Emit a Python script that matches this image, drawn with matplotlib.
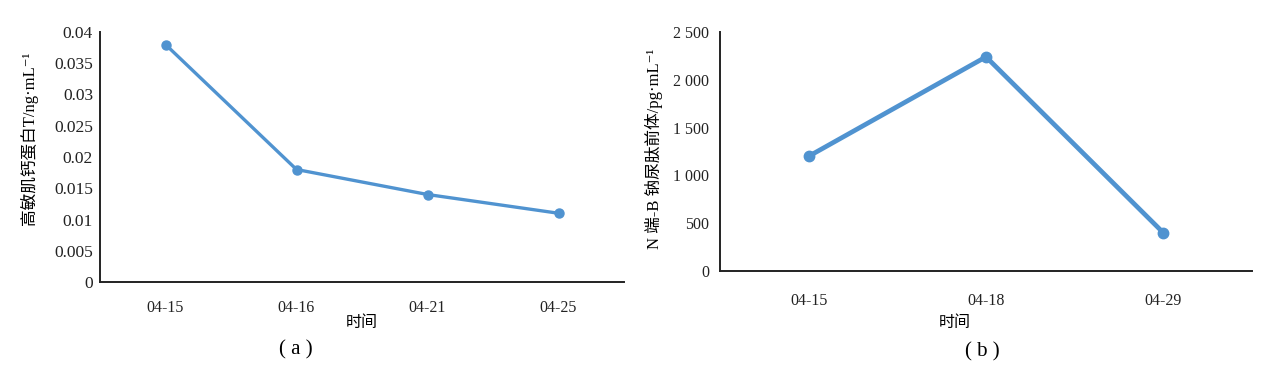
import matplotlib
matplotlib.use("Agg")
import matplotlib.pyplot as plt
from matplotlib.ticker import FixedLocator

plt.rcParams['font.family'] = ['Liberation Serif', 'Noto Sans CJK SC', 'DejaVu Sans']

# Data
dates_a = ["04-15", "04-16", "04-21", "04-25"]
values_a = [0.038, 0.018, 0.014, 0.011]
yticks_a = [0, 0.005, 0.01, 0.015, 0.02, 0.025, 0.03, 0.035, 0.04]
yticklabels_a = ["0", "0.005", "0.01", "0.015", "0.02", "0.025", "0.03", "0.035", "0.04"]

dates_b = ["04-15", "04-18", "04-29"]
values_b = [1200, 2240, 400]
yticks_b = [0, 500, 1000, 1500, 2000, 2500]
yticklabels_b = ["0", "500", "1 000", "1 500", "2 000", "2 500"]

line_color = "#5093d0"

W, H = 1267, 369
fig = plt.figure(figsize=(W / 100, H / 100), dpi=100)

def px(x0, y0, x1, y1):
    return [x0 / W, 1 - y1 / H, (x1 - x0) / W, (y1 - y0) / H]

ax1 = fig.add_axes(px(100, 32, 624, 282))
ax2 = fig.add_axes(px(720, 32, 1252, 271))

def style(ax):
    for s in ["top", "right"]:
        ax.spines[s].set_visible(False)
    for s in ["left", "bottom"]:
        ax.spines[s].set_linewidth(1.4)
        ax.spines[s].set_color("#222222")
    ax.tick_params(axis="both", length=0, labelsize=11.5, colors="#222222")

# Panel a
xa = list(range(len(dates_a)))
ax1.plot(xa, values_a, color=line_color, lw=2.4, marker="o", ms=6.5,
         solid_capstyle="round")
ax1.set_xlim(-0.5, len(dates_a) - 0.5)
ax1.set_ylim(0, 0.04)
ax1.set_xticks(xa)
ax1.set_xticklabels(dates_a)
ax1.yaxis.set_major_locator(FixedLocator(yticks_a))
ax1.set_yticklabels(yticklabels_a)
style(ax1)
ax1.tick_params(axis="y", labelsize=12.5, pad=5)
ax1.tick_params(axis="x", pad=13)
ax1.set_ylabel("高敏肌钙蛋白T/ng·mL⁻¹", fontsize=12, va="center")
ax1.yaxis.set_label_coords(-0.135, 0.576)

# Panel b
xb = list(range(len(dates_b)))
ax2.plot(xb, values_b, color=line_color, lw=3.4, marker="o", ms=7.5,
         solid_capstyle="round")
ax2.set_xlim(-0.5, len(dates_b) - 0.5)
ax2.set_ylim(0, 2500)
ax2.set_xticks(xb)
ax2.set_xticklabels(dates_b)
ax2.yaxis.set_major_locator(FixedLocator(yticks_b))
ax2.set_yticklabels(yticklabels_b)
style(ax2)
ax2.tick_params(axis="x", pad=16)
ax2.tick_params(axis="y", pad=8)
ax2.set_ylabel("N 端-B 钠尿肽前体/pg·mL⁻¹", fontsize=12, va="center")
ax2.yaxis.set_label_coords(-0.124, 0.51)

# x labels and panel captions
fig.text(362 / W, 1 - 323 / H, "时间", ha="center", va="center", fontsize=11.5)
fig.text(296 / W, 1 - 350 / H, "( a )", ha="center", va="center", fontsize=15)
fig.text(955 / W, 1 - 323 / H, "时间", ha="center", va="center", fontsize=11.5)
fig.text(982 / W, 1 - 352 / H, "( b )", ha="center", va="center", fontsize=15)

fig.savefig("out.png", dpi=100)
